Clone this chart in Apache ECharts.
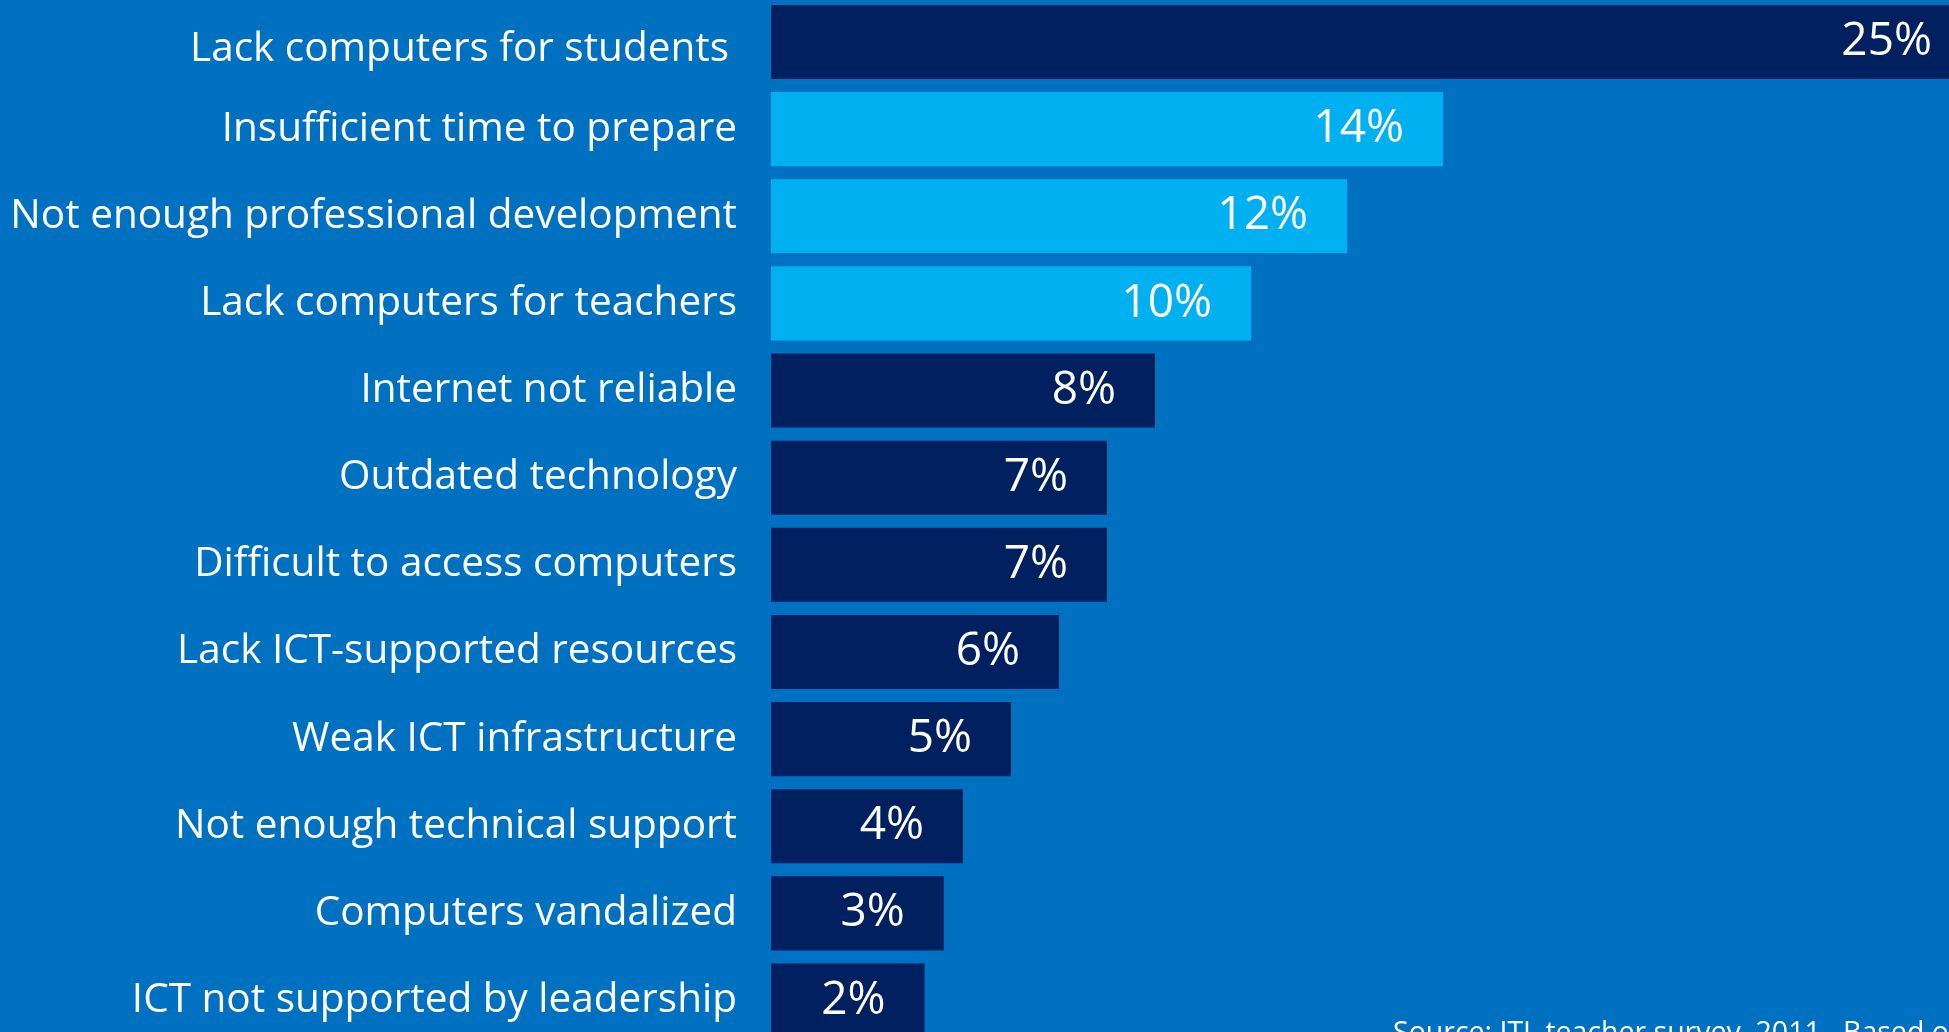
<!DOCTYPE html>
<html>
<head>
<meta charset="utf-8">
<script src="https://cdn.jsdelivr.net/npm/echarts@6/dist/echarts.min.js"></script>
<style>
html,body{margin:0;padding:0;background:#0070C0;overflow:hidden;width:1949px;height:1032px;}
#chart{position:absolute;left:0;top:-10px;width:2000px;height:1100px;}
</style>
</head>
<body>
<div id="chart"></div>
<script>
// Categories, top to bottom
const categories = [
  'Lack computers for students',
  'Insufficient time to prepare',
  'Not enough professional development',
  'Lack computers for teachers',
  'Internet not reliable',
  'Outdated technology',
  'Difficult to access computers',
  'Lack ICT-supported resources',
  'Weak ICT infrastructure',
  'Not enough technical support',
  'Computers vandalized',
  'ICT not supported by leadership'
];
// Bar lengths as drawn (percent)
const values = [25, 14, 12, 10, 8, 7, 7, 6, 5, 4, 3.6, 3.2];
// Printed value labels
const valueLabels = ['25%', '14%', '12%', '10%', '8%', '7%', '7%', '6%', '5%', '4%', '3%', '2%'];
// Categories shown in the highlight colour
const highlighted = ['Insufficient time to prepare', 'Not enough professional development', 'Lack computers for teachers'];
const sourceNote = 'Source: ITL teacher survey, 2011 . Based on responses from teachers';

const FONT = '"Open Sans", sans-serif';
const chart = echarts.init(document.getElementById('chart'));
chart.setOption({
  backgroundColor: '#0070C0',
  animation: false,
  grid: { left: 771, top: 8.4, width: 1200, height: 1045.7, containLabel: false },
  xAxis: {
    type: 'value', min: 0, max: 25, show: false
  },
  yAxis: {
    type: 'category', inverse: true, data: categories,
    axisLine: { show: false }, axisTick: { show: false }, splitLine: { show: false },
    axisLabel: {
      color: '#ffffff', fontSize: 40.5, fontFamily: FONT, margin: 34,
      formatter: (val, idx) => idx === 0 ? '{first|' + val + '}' : val,
      rich: {
        first: { color: '#ffffff', fontSize: 40.5, fontFamily: FONT, padding: [14, 8, 0, 0] }
      }
    }
  },
  series: [{
    type: 'bar',
    barCategoryGap: '15%',
    data: values.map((v, i) => ({
      value: v,
      itemStyle: { color: highlighted.includes(categories[i]) ? '#00B0F0' : '#002060' }
    })),
    label: {
      show: true, position: 'insideRight', distance: 39,
      color: '#ffffff', fontSize: 46, fontFamily: FONT,
      formatter: p => valueLabels[p.dataIndex]
    }
  }],
  graphic: [{
    type: 'text', left: 1393, top: 1029,
    style: { text: sourceNote, fill: '#ffffff', fontSize: 28.5, fontFamily: FONT }
  }]
});
</script>
</body>
</html>
